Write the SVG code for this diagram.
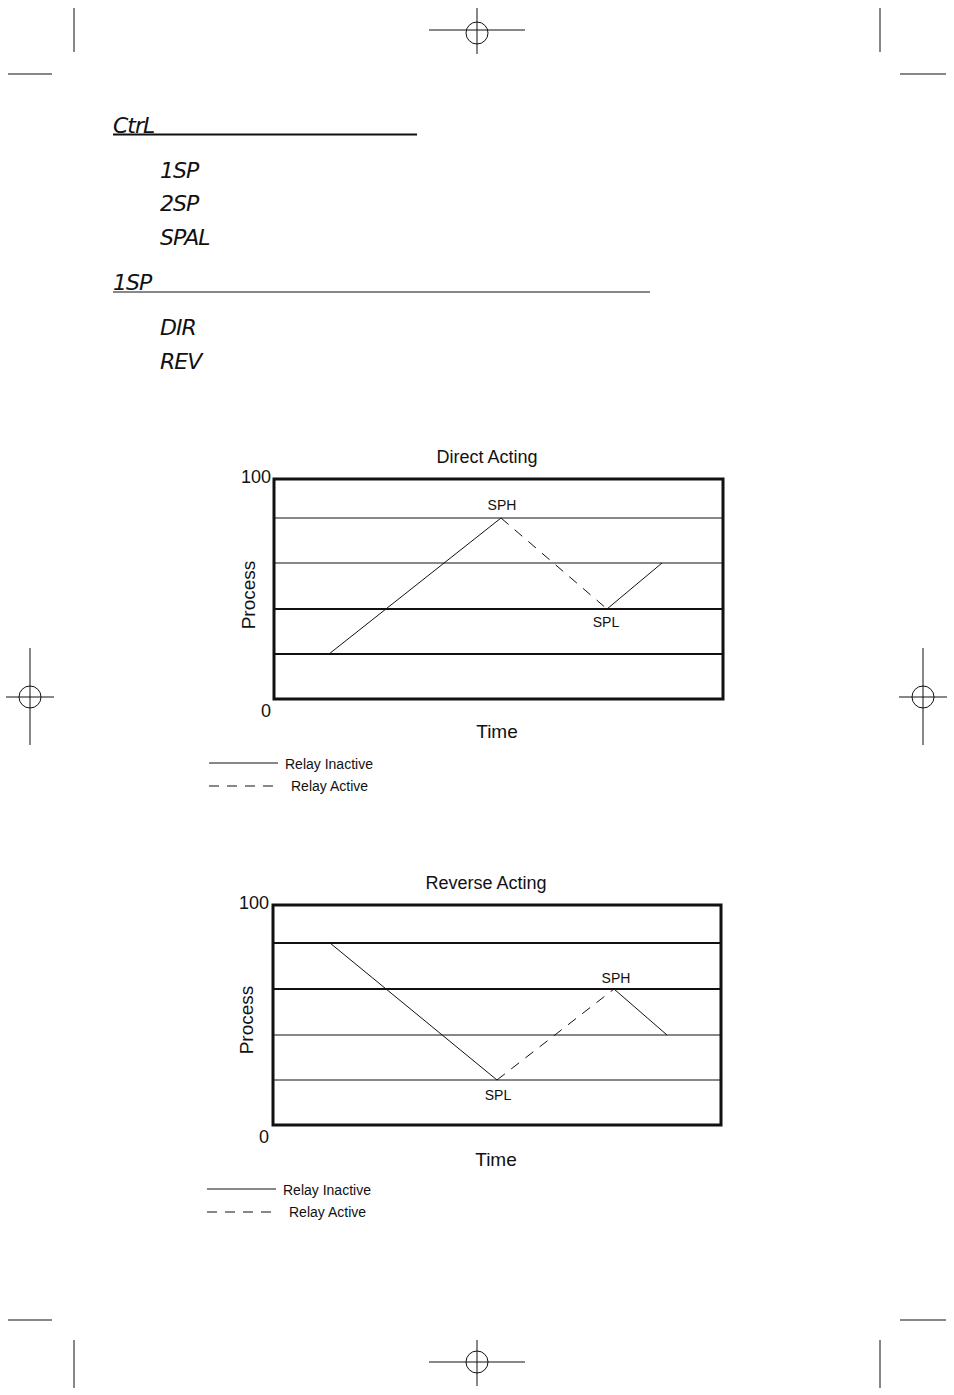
<svg xmlns="http://www.w3.org/2000/svg" width="954" height="1395" viewBox="0 0 954 1395">
<style>
.m{stroke:#111;stroke-width:1;fill:none}
.seg{font-family:"DejaVu Sans",sans-serif;font-style:italic;font-size:22px;fill:#111;font-weight:200;letter-spacing:-1px}
.t{font-family:"Liberation Sans",Arial,sans-serif;fill:#111}
.box{fill:none;stroke:#111;stroke-width:3}
.thin{stroke:#111;stroke-width:1}
.thk{stroke:#111;stroke-width:2}
.dash{stroke:#111;stroke-width:1;stroke-dasharray:10,8}
</style>
<rect width="954" height="1395" fill="#fff"/>
<g id="cropmarks" class="m">
<path d="M74 8V52M880 8V52M8 74H52M900 74H946M74 1340V1388M880 1340V1388M8 1320H52M900 1320H946"/>
<path d="M429 30H525M477 8V54"/><circle cx="477" cy="33" r="11"/>
<path d="M429 1362H525M477 1340V1386"/><circle cx="477" cy="1362" r="11"/>
<path d="M6 697H54M30 648V745"/><circle cx="30" cy="697" r="11"/>
<path d="M899 697H947M923 648V745"/><circle cx="923" cy="697" r="11"/>
</g>
<g id="header">
<text class="seg" x="113" y="133">CtrL</text>
<line class="thk" x1="113" y1="134.5" x2="417" y2="134.5"/>
<text class="seg" x="160" y="178">1SP</text>
<text class="seg" x="160" y="211">2SP</text>
<text class="seg" x="160" y="245">SPAL</text>
<text class="seg" x="113" y="290">1SP</text>
<line class="thin" x1="113" y1="292" x2="650" y2="292"/>
<text class="seg" x="160" y="335">DIR</text>
<text class="seg" x="160" y="369">REV</text>
</g>
<g id="direct">
<text class="t" x="487" y="463" font-size="18" text-anchor="middle">Direct Acting</text>
<rect class="box" x="274" y="479" width="449" height="220"/>
<line class="thin" x1="274" y1="518" x2="723" y2="518"/>
<line class="thin" x1="274" y1="563" x2="723" y2="563"/>
<line class="thk" x1="274" y1="609" x2="723" y2="609"/>
<line class="thk" x1="274" y1="654" x2="723" y2="654"/>
<g id="direct-connectors">
<path class="thin" fill="none" d="M329 654L501 518"/>
<path class="dash" fill="none" d="M501 518L607 609"/>
<path class="thin" fill="none" d="M607 609L662 563"/>
</g>
<text class="t" x="502" y="510" font-size="14" text-anchor="middle">SPH</text>
<text class="t" x="606" y="627" font-size="14" text-anchor="middle">SPL</text>
<text class="t" x="271" y="483" font-size="18" text-anchor="end">100</text>
<text class="t" x="266" y="717" font-size="18" text-anchor="middle">0</text>
<text class="t" x="0" y="0" font-size="19" text-anchor="middle" transform="translate(255,595) rotate(-90)">Process</text>
<text class="t" x="497" y="738" font-size="19" text-anchor="middle">Time</text>
<line class="thin" x1="209" y1="763" x2="278" y2="763"/>
<text class="t" x="285" y="769" font-size="14">Relay Inactive</text>
<line class="dash" x1="209" y1="786" x2="278" y2="786"/>
<text class="t" x="291" y="791" font-size="14">Relay Active</text>
</g>
<g id="reverse">
<text class="t" x="486" y="889" font-size="18" text-anchor="middle">Reverse Acting</text>
<rect class="box" x="273" y="905" width="448" height="220"/>
<line class="thk" x1="273" y1="943" x2="721" y2="943"/>
<line class="thk" x1="273" y1="989" x2="721" y2="989"/>
<line class="thin" x1="273" y1="1035" x2="721" y2="1035"/>
<line class="thin" x1="273" y1="1080" x2="721" y2="1080"/>
<g id="reverse-connectors">
<path class="thin" fill="none" d="M330 943L497 1080"/>
<path class="dash" fill="none" d="M497 1080L614 989"/>
<path class="thin" fill="none" d="M614 989L667 1035"/>
</g>
<text class="t" x="616" y="983" font-size="14" text-anchor="middle">SPH</text>
<text class="t" x="498" y="1100" font-size="14" text-anchor="middle">SPL</text>
<text class="t" x="269" y="909" font-size="18" text-anchor="end">100</text>
<text class="t" x="264" y="1143" font-size="18" text-anchor="middle">0</text>
<text class="t" x="0" y="0" font-size="19" text-anchor="middle" transform="translate(253,1020) rotate(-90)">Process</text>
<text class="t" x="496" y="1166" font-size="19" text-anchor="middle">Time</text>
<line class="thin" x1="207" y1="1189" x2="276" y2="1189"/>
<text class="t" x="283" y="1195" font-size="14">Relay Inactive</text>
<line class="dash" x1="207" y1="1212" x2="276" y2="1212"/>
<text class="t" x="289" y="1217" font-size="14">Relay Active</text>
</g>
</svg>
